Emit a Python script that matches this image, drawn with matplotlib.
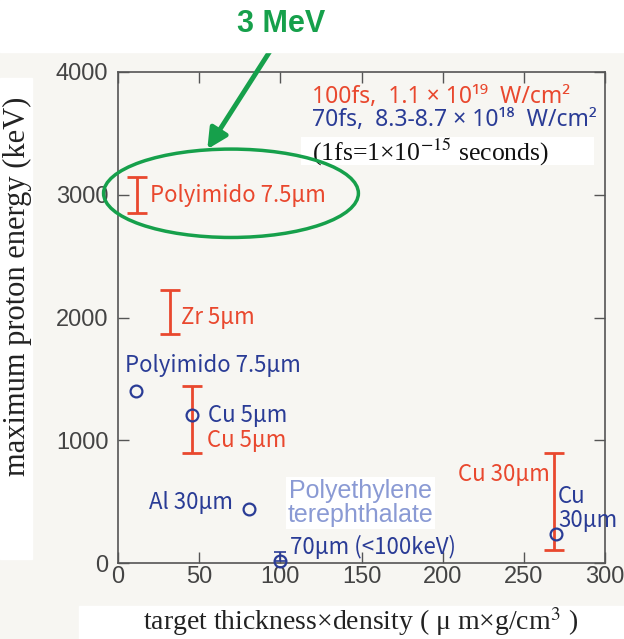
import matplotlib
matplotlib.use("Agg")
import numpy as np
from matplotlib import pyplot as plt
from matplotlib.patches import Ellipse, Rectangle

# 100fs shots (red ranges): x, low, high
red_x = [11.5, 32, 45.7, 268.5]
red_lo = [2850, 1866, 900, 106]
red_hi = [3145, 2224, 1444, 899]

# 70fs shots (blue circles)
blue_x = [11.1, 45.7, 81, 99.5, 269.8]
blue_y = [1401, 1206, 440, 19, 234]
# PET shot only gives an upper limit (<100keV)
pet_x, pet_y, pet_hi = 99.5, 19, 92

# point labels: text, x, y, colour key
labels = [
    ("Polyimido 7.5\u03bcm", 19.8, 2990, "r"),
    ("Zr 5\u03bcm", 38.9, 1996, "r"),
    ("Polyimido 7.5\u03bcm", 4.3, 1605, "b"),
    ("Cu 5\u03bcm", 55.6, 1198, "b"),
    ("Cu 5\u03bcm", 55.0, 994, "r"),
    ("Al 30\u03bcm", 19.1, 489, "b"),
    ("70\u03bcm (<100keV)", 106.2, 130, "b"),
    ("Cu 30\u03bcm", 209.3, 725, "r"),
    ("Cu\n30\u03bcm", 271.0, 444, "b"),
]

xticks = [0, 50, 100, 150, 200, 250, 300]
yticks = [0, 1000, 2000, 3000, 4000]

red = '#e9482e'
blue = '#2a3c96'
green = '#16a04b'
bg = '#f7f6f2'
jp = ['Noto Sans CJK JP', 'DejaVu Sans']

fig = plt.figure(figsize=(6.24, 6.39), dpi=100, facecolor=bg)
W, H = 624, 639

def fx(px):
    return px / W

def fy(py):
    return 1 - py / H

# white patches behind the axis titles and the top strip
fig.patches.append(Rectangle((0, fy(52)), 1, 52 / H, transform=fig.transFigure, color='white', zorder=0))
fig.patches.append(Rectangle((0, fy(559)), fx(32), (559 - 78) / H, transform=fig.transFigure, color='white', zorder=0))
fig.patches.append(Rectangle((fx(79), 0), 1 - fx(79), (639 - 606) / H, transform=fig.transFigure, color='white', zorder=0))

ax = fig.add_axes([fx(118), fy(563), fx(605) - fx(118), fy(72) - fy(563)])
ax.set_facecolor(bg)
ax.set_xlim(0, 300)
ax.set_ylim(0, 4000)
ax.set_xticks(xticks)
ax.set_yticks(yticks)
ax.tick_params(direction='in', length=8, width=1, colors='#555555', top=True, right=True)
ax.tick_params(axis='x', pad=2)
ax.tick_params(axis='y', pad=7)
for lab in ax.get_xticklabels() + ax.get_yticklabels():
    lab.set_family('Liberation Sans')
    lab.set_fontsize(17)
    lab.set_color('#444444')
for s in ax.spines.values():
    s.set_color('#555555')
    s.set_linewidth(1.2)

red_x = np.array(red_x)
red_lo = np.array(red_lo)
red_hi = np.array(red_hi)
mid = (red_lo + red_hi) / 2
ax.errorbar(red_x, mid, yerr=[mid - red_lo, red_hi - mid], fmt='none', ecolor=red,
            elinewidth=2, capsize=7, capthick=2, zorder=3)

ax.plot(blue_x, blue_y, 'o', mfc='none', mec=blue, mew=1.6, ms=8.5, zorder=4, clip_on=False)
ax.errorbar([pet_x], [pet_y], yerr=[[0], [pet_hi - pet_y]], fmt='none', ecolor=blue,
            elinewidth=1.2, capsize=4, capthick=1.2, zorder=4)

for text, x, y, c in labels:
    ax.text(x, y, text, color=red if c == "r" else blue, fontsize=16,
            family=jp, va='center', ha='left', linespacing=1.1, zorder=5)

ax.text(149.4, 489, "Polyethylene\nterephthalate", color='#8a9ad4', fontsize=18,
        family='Liberation Sans', ha='center', va='center', linespacing=1.05,
        bbox=dict(facecolor='white', edgecolor='none', pad=1), zorder=5)

sans = ['Noto Sans', 'DejaVu Sans']
ax.text(119.8, 3800, "100fs,  1.1 \u00d7 10\u00b9\u2079  W/cm\u00b2", color=red, fontsize=16.5,
        family=sans, va='center', ha='left')
ax.text(119.8, 3606, "70fs,  8.3-8.7 \u00d7 10\u00b9\u2078  W/cm\u00b2", color=blue, fontsize=16.5,
        family=sans, va='center', ha='left')
ax.add_patch(Rectangle((113, 3240), 180, 230, facecolor='white', edgecolor='none', zorder=2))
ax.text(119.8, 3348, "(1fs=1\u00d710$^{-15}$ seconds)", color='#111111', fontsize=18.5,
        family='Liberation Serif', va='center', ha='left', zorder=3,
        math_fontfamily='stix')

# highlight
ax.add_patch(Ellipse((69.6, 3012), 157, 720, fill=False, edgecolor=green, lw=2.5, zorder=6,
                     clip_on=False))
ax.annotate("", xy=(55, 3371), xycoords='data', xytext=(fx(272), fy(48)),
            textcoords='figure fraction',
            arrowprops=dict(arrowstyle='-|>,head_length=1.2,head_width=0.6', color=green,
                            lw=3.5, shrinkA=0, shrinkB=0), zorder=6, annotation_clip=False)
fig.text(fx(281), fy(24), "3 MeV", color=green, fontsize=22, fontweight='bold',
         family='Liberation Sans', ha='center', va='center')

fig.text(fx(17), fy(286), "maximum proton energy (keV)", rotation=90, fontsize=22,
         family='Liberation Serif', ha='center', va='center', color='#222222')
fig.text(fx(361), fy(622), "target thickness\u00d7density ( \u03bc m\u00d7g/cm$^3$ )", fontsize=20,
         family='Liberation Serif', ha='center', va='center', color='#222222',
         math_fontfamily='stix')

fig.savefig("out.png", dpi=100, facecolor=bg)
